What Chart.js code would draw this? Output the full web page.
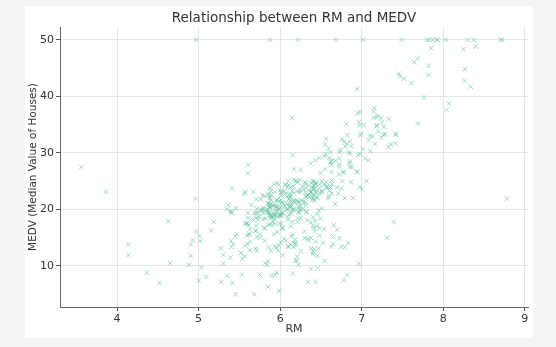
<!DOCTYPE html>
<html>
<head>
<meta charset="utf-8">
<script src="https://cdn.jsdelivr.net/npm/chart.js@4"></script>
<style>
  html, body { margin: 0; padding: 0; background: #f4f4f4; }
  #wrap { width: 556px; height: 347px; }
</style>
</head>
<body>
<div id="wrap"><canvas id="chart" width="556" height="347"></canvas></div>
<script>
// RM (avg rooms) and MEDV (median value, $1000s)
const rm = [6.575,6.421,7.185,6.998,7.147,6.43,6.012,6.172,5.631,6.004,6.377,6.009,5.889,5.949,6.096,5.834,5.935,5.99,5.456,5.727,
  5.57,5.965,6.142,5.813,5.924,5.599,5.813,6.047,6.495,6.674,5.713,6.072,5.95,5.701,6.096,5.933,5.841,5.85,5.966,6.595,
  7.024,6.77,6.169,6.211,6.069,5.682,5.786,6.03,5.399,5.602,5.963,6.115,6.511,5.998,5.888,7.249,6.383,6.816,6.145,5.927,
  5.741,5.966,6.456,6.762,7.104,6.29,5.787,5.878,5.594,5.885,6.417,5.961,6.065,6.245,6.273,6.286,6.279,6.14,6.232,5.874,
  6.727,6.619,6.302,6.167,6.389,6.63,6.015,6.121,7.007,7.079,6.417,6.405,6.442,6.211,6.249,6.625,6.163,8.069,7.82,7.416,
  6.727,6.781,6.405,6.137,6.167,5.851,5.836,6.127,6.474,6.229,6.195,6.715,5.913,6.092,6.254,5.928,6.176,6.021,5.872,5.731,
  5.87,6.004,5.961,5.856,5.879,5.986,5.613,5.693,6.431,5.637,6.458,6.326,6.372,5.822,5.757,6.335,5.942,6.454,5.857,6.151,
  6.174,5.019,5.403,5.468,4.903,6.13,5.628,4.926,5.186,5.597,6.122,5.404,5.012,5.709,6.129,6.152,5.272,6.943,6.066,6.51,
  6.25,7.489,7.802,8.375,5.854,6.101,7.929,5.877,6.319,6.402,5.875,5.88,5.572,6.416,5.859,6.546,6.02,6.315,6.86,6.98,
  7.765,6.144,7.155,6.563,5.604,6.153,7.831,6.782,6.556,7.185,6.951,6.739,7.178,6.8,6.604,7.875,7.287,7.107,7.274,6.975,
  7.135,6.162,7.61,7.853,8.034,5.891,6.326,5.783,6.064,5.344,5.96,5.404,5.807,6.375,5.412,6.182,5.888,6.642,5.951,6.373,
  6.951,6.164,6.879,6.618,8.266,8.725,8.04,7.163,7.686,6.552,5.981,7.412,8.337,8.247,6.726,6.086,6.631,7.358,6.481,6.606,
  6.897,6.095,6.358,6.393,5.593,5.605,6.108,6.226,6.433,6.718,6.487,6.438,6.957,8.259,6.108,5.876,7.454,8.704,7.333,6.842,
  7.203,7.52,8.398,7.327,7.206,5.56,7.014,8.297,7.47,5.92,5.856,6.24,6.538,7.691,6.758,6.854,7.267,6.826,6.482,6.812,
  7.82,6.968,7.645,7.923,7.088,6.453,6.23,6.209,6.315,6.565,6.861,7.148,6.63,6.127,6.009,6.678,6.549,5.79,6.345,7.041,
  6.871,6.59,6.495,6.982,7.236,6.616,7.42,6.849,6.635,5.972,4.973,6.122,6.023,6.266,6.567,5.705,5.914,5.782,6.382,6.113,
  6.426,6.376,6.041,5.708,6.415,6.431,6.312,6.083,5.868,6.333,6.144,5.706,6.031,6.316,6.31,6.037,5.869,5.895,6.059,5.985,
  5.968,7.241,6.54,6.696,6.874,6.014,5.898,6.516,6.635,6.939,6.49,6.579,5.884,6.728,5.663,5.936,6.212,6.395,6.127,6.112,
  6.398,6.251,5.362,5.803,8.78,3.561,4.963,3.863,4.97,6.683,7.016,6.216,5.875,4.906,4.138,7.313,6.649,6.794,6.38,6.223,
  6.968,6.545,5.536,5.52,4.368,5.277,4.652,5.0,4.88,5.39,5.713,6.051,5.036,6.193,5.887,6.471,6.405,5.747,5.453,5.852,
  5.987,6.343,6.404,5.349,5.531,5.683,4.138,5.608,5.617,6.852,5.757,6.657,4.628,5.155,4.519,6.434,6.782,5.304,5.957,6.824,
  6.411,6.006,5.648,6.103,5.565,5.896,5.837,6.202,6.193,6.38,6.348,6.833,6.425,6.436,6.208,6.629,6.461,6.152,5.935,5.627,
  5.818,6.406,6.219,6.485,5.854,6.459,6.341,6.251,6.185,6.417,6.749,6.655,6.297,7.393,6.728,6.525,5.976,5.936,6.301,6.081,
  6.701,6.376,6.317,6.513,6.209,5.759,5.952,6.003,5.926,5.713,6.167,6.229,6.437,6.98,5.427,6.162,6.484,5.304,6.185,6.229,
  6.242,6.75,7.061,5.762,5.871,6.312,6.114,5.905,5.454,5.414,5.093,5.983,5.983,5.707,5.926,5.67,5.39,5.794,6.019,5.569,
  6.027,6.593,6.12,6.976,6.794,6.03];
const medv = [24.0,21.6,34.7,33.4,36.2,28.7,22.9,27.1,16.5,18.9,15.0,18.9,21.7,20.4,18.2,19.9,23.1,17.5,20.2,18.2,
  13.6,19.6,15.2,14.5,15.6,13.9,16.6,14.8,18.4,21.0,12.7,14.5,13.2,13.1,13.5,18.9,20.0,21.0,24.7,30.8,
  34.9,26.6,25.3,24.7,21.2,19.3,20.0,16.6,14.4,19.4,19.7,20.5,25.0,23.4,18.9,35.4,24.7,31.6,23.3,19.6,
  18.7,16.0,22.2,25.0,33.0,23.5,19.4,22.0,17.4,20.9,24.2,21.7,22.8,23.4,24.1,21.4,20.0,20.8,21.2,20.3,
  28.0,23.9,24.8,22.9,23.9,26.6,22.5,22.2,23.6,28.7,22.6,22.0,22.9,25.0,20.6,28.4,21.4,38.7,43.8,33.2,
  27.5,26.5,18.6,19.3,20.1,19.5,19.5,20.4,19.8,19.4,21.7,22.8,18.8,18.7,18.5,18.3,21.2,19.2,20.4,19.3,
  22.0,20.3,20.5,17.3,18.8,21.4,15.7,16.2,18.0,14.3,19.2,19.6,23.0,18.4,15.6,18.1,17.4,17.1,13.3,17.8,
  14.0,14.4,13.4,15.6,11.8,13.8,15.6,14.6,17.8,15.4,21.5,19.6,15.3,19.4,17.0,15.6,13.1,41.3,24.3,23.3,
  27.0,50.0,50.0,50.0,22.7,25.0,50.0,23.8,23.8,22.3,17.4,19.1,23.1,23.6,22.6,29.4,23.2,24.6,29.9,37.2,
  39.8,36.2,37.9,32.5,26.4,29.6,50.0,32.0,29.8,34.9,37.0,30.5,36.4,31.1,29.1,50.0,33.3,30.3,34.6,34.9,
  32.9,24.1,42.3,48.5,50.0,22.6,24.4,22.5,24.4,20.0,21.7,19.3,22.4,28.1,23.7,25.0,23.3,28.7,21.5,23.0,
  26.7,21.7,27.5,30.1,44.8,50.0,37.6,31.6,46.7,31.5,24.3,31.7,41.7,48.3,29.0,24.0,25.1,31.5,23.7,23.3,
  22.0,20.1,22.2,23.7,17.6,18.5,24.3,20.5,24.5,26.2,24.4,24.8,29.6,42.8,21.9,20.9,44.0,50.0,36.0,30.1,
  33.8,43.1,48.8,31.0,36.5,22.8,30.7,50.0,43.5,20.7,21.1,25.2,24.4,35.2,32.4,32.0,33.2,33.1,29.1,35.1,
  45.4,35.4,46.0,50.0,32.2,22.0,20.1,23.2,22.3,24.8,28.5,37.3,27.9,23.9,21.7,28.6,27.1,20.3,22.5,29.0,
  24.8,22.0,26.4,33.1,36.1,28.4,33.4,28.2,22.8,20.3,16.1,22.1,19.4,21.6,23.8,16.2,17.8,19.8,23.1,21.0,
  23.8,23.1,20.4,18.5,25.0,24.6,23.0,22.2,19.3,22.6,19.8,17.1,19.4,22.2,20.7,21.1,19.5,18.5,20.6,19.0,
  18.7,32.7,16.5,23.9,31.2,17.5,17.2,23.1,24.5,26.6,22.9,24.1,18.6,30.1,18.2,20.6,17.8,21.7,22.7,22.6,
  25.0,19.9,20.8,16.8,21.9,27.5,21.9,23.1,50.0,50.0,50.0,50.0,50.0,13.8,13.8,15.0,13.9,13.3,13.1,10.2,
  10.4,10.9,11.3,12.3,8.8,7.2,10.5,7.4,10.2,11.5,15.1,23.2,9.7,13.8,12.7,13.1,12.5,8.5,5.0,6.3,
  5.6,7.2,12.1,8.3,8.5,5.0,11.9,27.9,17.2,27.5,15.0,17.2,17.9,16.3,7.0,7.2,7.5,10.4,8.8,8.4,
  16.7,14.2,20.8,13.4,11.7,8.3,10.2,10.9,11.0,9.5,14.5,14.1,16.1,14.3,11.7,13.4,9.6,8.7,8.4,12.8,
  10.5,17.1,18.4,15.4,10.8,11.8,14.9,12.6,14.1,13.0,13.4,15.2,16.1,17.8,14.9,14.1,12.7,13.5,14.9,20.0,
  16.4,17.7,19.5,20.2,21.4,19.9,19.0,19.1,19.1,20.1,19.9,19.6,23.2,29.8,13.8,13.3,16.7,12.0,14.6,21.4,
  23.0,23.7,25.0,21.8,20.6,21.2,19.1,20.6,15.2,7.0,8.1,13.6,20.1,21.8,24.5,23.1,19.7,18.3,21.2,17.5,
  16.8,22.4,20.6,23.9,22.0,11.9];
const xTicks = [4, 5, 6, 7, 8, 9];
const yTicks = [10, 20, 30, 40, 50];

const FONT = "'DejaVu Sans', sans-serif";
const points = rm.map((v, i) => ({ x: v, y: medv[i] }));

// white card behind the figure + matplotlib-like title
const cardPlugin = {
  id: 'card',
  beforeDraw(chart) {
    const c = chart.ctx;
    c.save();
    c.fillStyle = '#f4f4f4';
    c.fillRect(0, 0, chart.width, chart.height);
    c.fillStyle = '#ffffff';
    c.fillRect(25, 6, 508, 332);
    c.restore();
  },
  afterDraw(chart) {
    const c = chart.ctx, a = chart.chartArea;
    c.save();
    c.fillStyle = '#333333';
    c.font = '13.5px ' + FONT;
    c.textAlign = 'center';
    c.textBaseline = 'middle';
    c.fillText('Relationship between RM and MEDV', (a.left + a.right) / 2, 18);
    c.restore();
  }
};

new Chart(document.getElementById('chart'), {
  type: 'scatter',
  data: {
    datasets: [{
      data: points,
      pointStyle: 'crossRot',
      pointRadius: 3.2,
      pointBorderWidth: 1,
      borderColor: 'rgba(102, 194, 165, 0.6)',
      backgroundColor: 'rgba(102, 194, 165, 0.6)'
    }]
  },
  options: {
    responsive: false,
    animation: false,
    layout: { padding: { left: 25, right: 28, top: 27, bottom: 9 } },
    plugins: { legend: { display: false }, tooltip: { enabled: false } },
    scales: {
      x: {
        type: 'linear',
        min: 3.30,
        max: 9.04,
        afterBuildTicks: s => { s.ticks = xTicks.map(v => ({ value: v })); },
        afterFit: s => { s.height = 31; },
        grid: { color: '#e6e6e6', tickColor: '#555', tickLength: 4 },
        border: { color: '#666', width: 1 },
        ticks: { color: '#333', font: { family: FONT, size: 11 }, padding: 2, maxRotation: 0 },
        title: { display: true, text: 'RM', color: '#333', font: { family: FONT, size: 11 }, padding: { top: 2, bottom: 2 } }
      },
      y: {
        min: 2.75,
        max: 52.25,
        afterBuildTicks: s => { s.ticks = yTicks.map(v => ({ value: v })); },
        afterFit: s => { s.width = 35; },
        grid: { color: '#e6e6e6', tickColor: '#555', tickLength: 4 },
        border: { color: '#666', width: 1 },
        ticks: { color: '#333', font: { family: FONT, size: 11 }, padding: 2 },
        title: { display: true, text: 'MEDV (Median Value of Houses)', color: '#333', font: { family: FONT, size: 10.5 }, padding: { top: 2, bottom: 0 } }
      }
    }
  },
  plugins: [cardPlugin]
});
</script>
</body>
</html>
